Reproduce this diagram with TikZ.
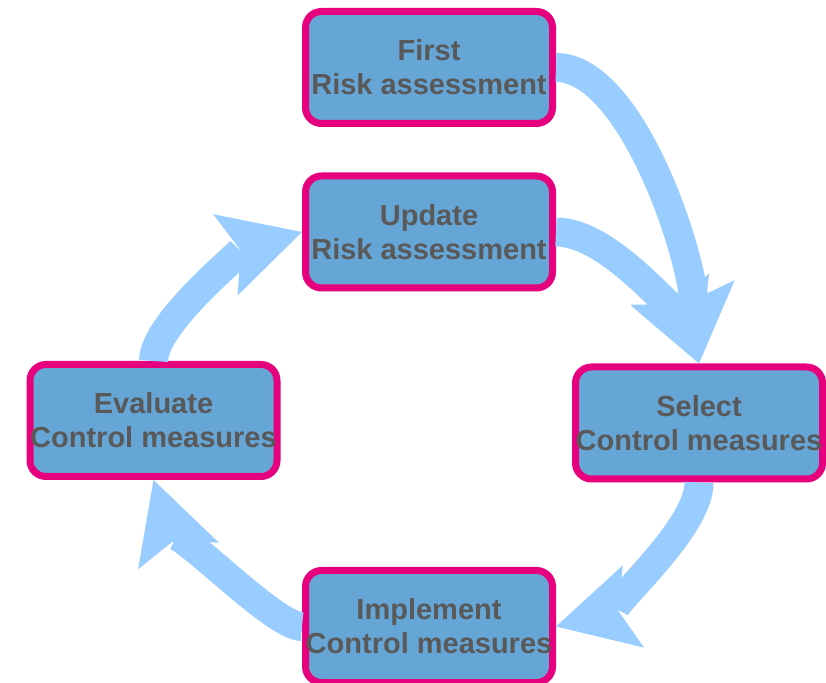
\documentclass[tikz,border=0pt]{standalone}
\usepackage{fontspec}
\setmainfont{Liberation Sans}
\usepackage{tikz}
\usetikzlibrary{arrows.meta, positioning}
\definecolor{riskPink}{RGB}{230, 0, 126}
\definecolor{riskBlue}{RGB}{102, 166, 214}
\definecolor{riskArrow}{RGB}{153, 204, 255}
\definecolor{riskText}{RGB}{89, 89, 89}

\begin{document}
\begin{tikzpicture}[
    x=1pt, y=1pt,
    stage/.style={
        rectangle,
        rounded corners=16pt,
        draw=riskPink,
        line width=7pt,
        fill=riskBlue,
        minimum width=247pt,
        minimum height=112pt,
        inner sep=0pt,
        align=center,
        text=riskText,
        font=\fontsize{29}{34}\selectfont\bfseries
    },
    flow/.style={
        draw=riskArrow,
        line width=29pt,
        -{Stealth[length=80pt, width=85pt, inset=16pt, line width=0pt]}
    }
]
    \useasboundingbox (0,0) rectangle (826,682);

    % Stages
    \node[stage] (first) at (429,614.5) {First\\Risk assessment};
    \node[stage] (update) at (429,450) {Update\\Risk assessment};
    \node[stage] (evaluate) at (153.5,261.5) {Evaluate\\Control measures};
    \node[stage] (select) at (699,259) {Select\\Control measures};
    \node[stage] (implement) at (429,55.5) {Implement\\Control measures};

    % Cycle
    \draw[flow] (first.east) .. controls (629,614.5) and (689,438) .. (select.north);
    \draw[flow] (update.east) .. controls (616,450) and (688.5,345) .. (select.north);
    \draw[flow] (select.south) .. controls (699.5,150) and (595.8,65.8) .. (implement.east);
    \draw[flow] (implement.west) .. controls (272,55) and (163.5,171.6) .. (evaluate.south);
    \draw[flow] (evaluate.north) .. controls (153.5,360) and (247.2,433.6) .. (update.west);

\end{tikzpicture}
\end{document}
